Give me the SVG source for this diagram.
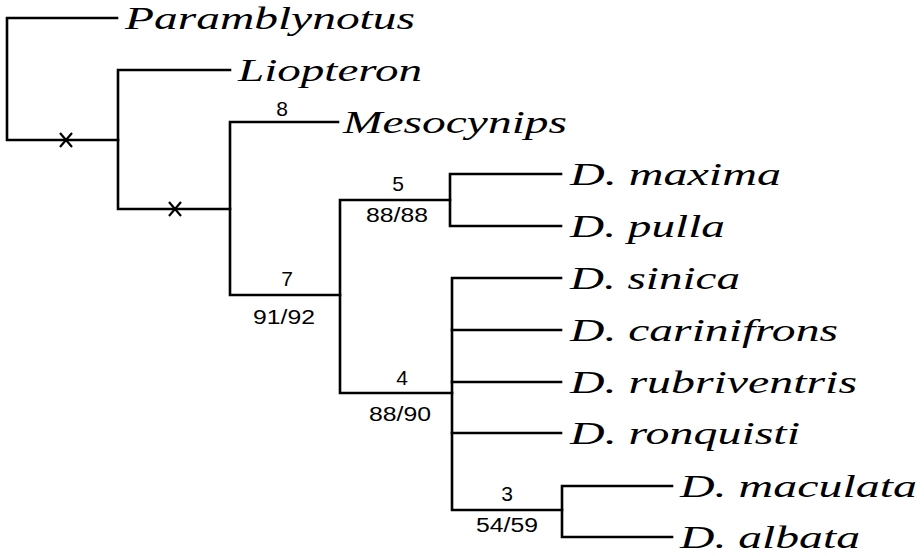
<svg xmlns="http://www.w3.org/2000/svg" width="924" height="556" viewBox="0 0 924 556">
<style>
.br{fill:none;stroke:#000;stroke-width:2.6;stroke-linecap:square;stroke-linejoin:miter}
.xm{stroke:#000;stroke-width:2.2;fill:none}
.tx{font-family:"Liberation Serif","Times New Roman",serif;font-style:italic;font-size:32px;fill:#000}
.sp{font-family:"Liberation Sans",Arial,sans-serif;font-size:20px;fill:#000;text-anchor:middle}
.sd{font-size:21px}
</style>
<rect width="924" height="556" fill="#fff"/>
<g id="connectors">
<path class="br" d="M117,18 H7 V140 H118"/>
<path class="br" d="M230,70 H118 V209 H230"/>
<path class="br" d="M338,122 H230 V295 H340"/>
<path class="br" d="M450,200 H340 V393 H452"/>
<path class="br" d="M561,174 H450 V226 H561"/>
<path class="br" d="M561,278 H452 V510 H562"/>
<path class="br" d="M452,330 H561 M452,382 H561 M452,433 H561"/>
<path class="br" d="M672,486 H562 V537 H672"/>
<path class="xm" d="M60,133 L72,147 M72,133 L60,147"/>
<path class="xm" d="M169,202 L181,216 M181,202 L169,216"/>
</g>
<g id="Paramblynotus"><text class="tx" x="125" y="29" textLength="290" lengthAdjust="spacingAndGlyphs">Paramblynotus</text></g>
<g id="Liopteron"><text class="tx" x="238" y="81" textLength="184" lengthAdjust="spacingAndGlyphs">Liopteron</text></g>
<g id="Mesocynips"><text class="tx" x="343" y="133" textLength="224" lengthAdjust="spacingAndGlyphs">Mesocynips</text></g>
<g id="D_maxima"><text class="tx" x="570" y="185" textLength="211" lengthAdjust="spacingAndGlyphs">D. maxima</text></g>
<g id="D_pulla"><text class="tx" x="570" y="237" textLength="155" lengthAdjust="spacingAndGlyphs">D. pulla</text></g>
<g id="D_sinica"><text class="tx" x="570" y="289" textLength="170" lengthAdjust="spacingAndGlyphs">D. sinica</text></g>
<g id="D_carinifrons"><text class="tx" x="570" y="341" textLength="268" lengthAdjust="spacingAndGlyphs">D. carinifrons</text></g>
<g id="D_rubriventris"><text class="tx" x="570" y="393" textLength="287" lengthAdjust="spacingAndGlyphs">D. rubriventris</text></g>
<g id="D_ronquisti"><text class="tx" x="570" y="444" textLength="230" lengthAdjust="spacingAndGlyphs">D. ronquisti</text></g>
<g id="D_maculata"><text class="tx" x="680" y="497" textLength="237" lengthAdjust="spacingAndGlyphs">D. maculata</text></g>
<g id="D_albata"><text class="tx" x="680" y="548" textLength="180" lengthAdjust="spacingAndGlyphs">D. albata</text></g>
<g id="node8"><text class="sp sd" x="282" y="116">8</text></g>
<g id="node7"><text class="sp sd" x="287" y="286">7</text><text class="sp" x="284" y="324" textLength="62" lengthAdjust="spacingAndGlyphs">91/92</text></g>
<g id="node5"><text class="sp sd" x="398" y="191">5</text><text class="sp" x="397" y="222" textLength="62" lengthAdjust="spacingAndGlyphs">88/88</text></g>
<g id="node4"><text class="sp sd" x="402" y="385">4</text><text class="sp" x="400" y="421" textLength="62" lengthAdjust="spacingAndGlyphs">88/90</text></g>
<g id="node3"><text class="sp sd" x="507" y="501">3</text><text class="sp" x="507" y="532" textLength="62" lengthAdjust="spacingAndGlyphs">54/59</text></g>
</svg>
